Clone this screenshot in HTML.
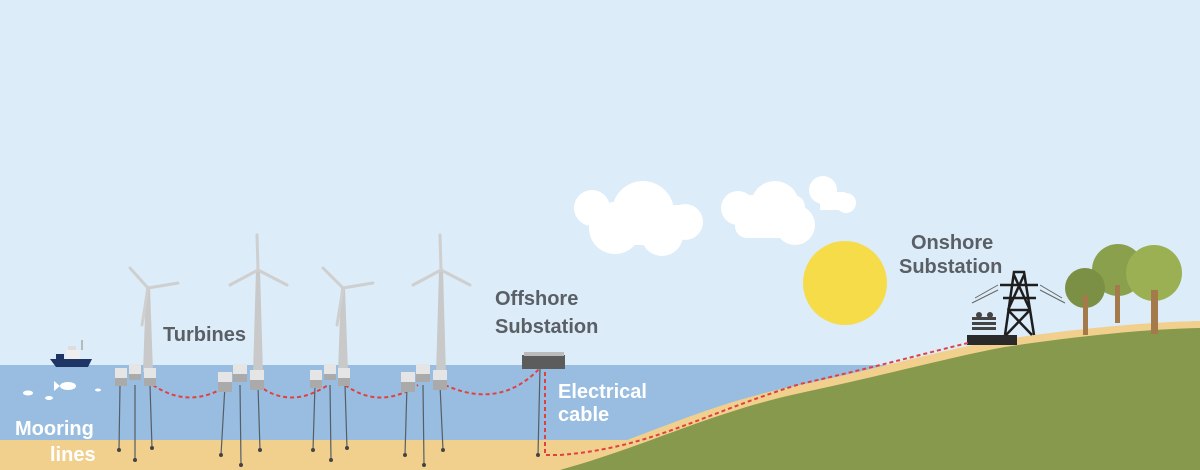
<!DOCTYPE html>
<html><head><meta charset="utf-8"><style>
html,body{margin:0;padding:0;background:#dcecf8}
svg{display:block}
text{font-family:"Liberation Sans",sans-serif;font-weight:bold}
</style></head><body>
<svg width="1200" height="470" viewBox="0 0 1200 470" xmlns="http://www.w3.org/2000/svg">
<rect width="1200" height="470" fill="#dcecf8"/>
<!-- clouds -->
<g fill="#ffffff">
<circle cx="592" cy="208" r="18"/><circle cx="643" cy="212" r="31"/><circle cx="615" cy="228" r="26"/>
<circle cx="662" cy="235" r="21"/><circle cx="685" cy="222" r="18"/><rect x="600" y="205" width="80" height="40"/>
<circle cx="738" cy="208" r="17"/><circle cx="775" cy="205" r="24"/><circle cx="795" cy="225" r="20"/>
<rect x="735" y="195" width="70" height="43" rx="12"/>
<circle cx="823" cy="190" r="14"/><circle cx="846" cy="203" r="10"/><rect x="820" y="192" width="25" height="18"/>
</g>
<!-- sun -->
<circle cx="845" cy="283" r="42" fill="#f7dc4a"/>
<!-- sea -->
<rect x="0" y="365" width="900" height="80" fill="#99bde0"/>
<!-- seabed sand -->
<rect x="0" y="440" width="700" height="30" fill="#f1d08e"/>
<!-- hill -->
<path d="M540,470 C640,440 700,405 800,385 C880,368 950,348 1000,340 C1080,328 1150,322 1200,321 L1200,470 Z" fill="#f1d08e"/>
<path d="M560,470 C650,445 710,412 805,392 C885,375 955,356 1005,347 C1085,335 1150,329 1200,328 L1200,470 Z" fill="#86994d"/>
<!-- trees -->
<g>
<circle cx="1118" cy="270" r="26" fill="#8aa04d"/>
<circle cx="1085" cy="288" r="20" fill="#7b8f45"/>
<circle cx="1154" cy="273" r="28" fill="#9bb052"/>
<rect x="1083" y="295" width="5" height="40" fill="#a57a4a"/>
<rect x="1115" y="285" width="5" height="38" fill="#a57a4a"/>
<rect x="1151" y="290" width="7" height="44" fill="#a57a4a"/>
</g>
<!-- onshore substation -->
<rect x="967" y="335" width="50" height="10" fill="#2a2a2a"/>
<g fill="#444"><rect x="972" y="322" width="24" height="3"/><rect x="972" y="327" width="24" height="3"/><rect x="972" y="317" width="24" height="3"/><circle cx="979" cy="315" r="3"/><circle cx="990" cy="315" r="3"/></g>
<g stroke="#1e1e1e" stroke-width="2.5" fill="none">
<path d="M1005,335 L1014,272 L1024,272 L1034,335"/>
<path d="M1000,285 L1038,285 M1003,298 L1036,298 M1008,310 L1030,310"/>
<path d="M1014,275 L1030,310 M1024,275 L1008,310 M1008,310 L1032,335 M1030,310 L1006,335"/>
</g>
<g stroke="#666" stroke-width="1"><path d="M998,285 L975,298 M998,290 L972,303 M1040,285 L1062,298 M1040,290 L1065,303"/></g>
<!-- cable -->
<path d="M545,372 L545,455 L560,455 C650,448 700,415 800,384 C880,366 930,352 968,343" stroke="#e04040" stroke-width="2" stroke-dasharray="4,3" fill="none"/>
<g stroke="#e04040" stroke-width="2" stroke-dasharray="4,3" fill="none">
<path d="M153,385 Q190,410 228,385"/>
<path d="M258,385 Q290,410 328,385"/>
<path d="M345,385 Q380,410 418,385"/>
<path d="M445,385 Q500,410 540,368"/>
</g>
<!-- substation offshore -->
<rect x="522" y="355" width="43" height="14" fill="#5c5c5c"/>
<rect x="524" y="352" width="40" height="4" fill="#bbb"/>
<g stroke="#555d66" stroke-width="1.2">
<path d="M120,385 L119,450 M135,385 L135,460 M150,385 L152,448"/>
<path d="M225,385 L221,455 M240,385 L241,465 M258,385 L260,450"/>
<path d="M315,385 L313,450 M330,385 L331,460 M345,385 L347,448"/>
<path d="M407,385 L405,455 M423,385 L424,465 M440,385 L443,450"/>
<path d="M540,368 L538,455"/>
</g>
<g fill="#444"><circle cx="119" cy="450" r="2"/><circle cx="135" cy="460" r="2"/><circle cx="152" cy="448" r="2"/>
<circle cx="221" cy="455" r="2"/><circle cx="241" cy="465" r="2"/><circle cx="260" cy="450" r="2"/>
<circle cx="313" cy="450" r="2"/><circle cx="331" cy="460" r="2"/><circle cx="347" cy="448" r="2"/>
<circle cx="405" cy="455" r="2"/><circle cx="424" cy="465" r="2"/><circle cx="443" cy="450" r="2"/><circle cx="538" cy="455" r="2"/></g>
<!-- towers & blades -->
<g fill="#c9c9c9">
<polygon points="146,288 150,288 153,372 143,372"/>
<polygon points="256,270 260,270 263,375 253,375"/>
<polygon points="341,288 345,288 348,372 338,372"/>
<polygon points="439,270 443,270 446,375 436,375"/>
</g>
<g stroke="#cfcfcf" stroke-width="3" stroke-linecap="round">
<path d="M148,288 L130,268 M148,288 L178,283 M148,288 L142,325"/>
<path d="M258,270 L257,235 M258,270 L230,285 M258,270 L287,285"/>
<path d="M343,288 L323,268 M343,288 L373,283 M343,288 L337,325"/>
<path d="M441,270 L440,235 M441,270 L413,285 M441,270 L470,285"/>
</g>
<!-- floats -->
<g>
<g fill="#e5e5e5"><rect x="115" y="368" width="12" height="10"/><rect x="129" y="364" width="12" height="10"/><rect x="144" y="368" width="12" height="10"/>
<rect x="218" y="372" width="14" height="10"/><rect x="233" y="364" width="14" height="10"/><rect x="250" y="370" width="14" height="10"/>
<rect x="310" y="370" width="12" height="10"/><rect x="324" y="364" width="12" height="10"/><rect x="338" y="368" width="12" height="10"/>
<rect x="401" y="372" width="14" height="10"/><rect x="416" y="364" width="14" height="10"/><rect x="433" y="370" width="14" height="10"/></g>
<g fill="#aaaaaa"><rect x="115" y="378" width="12" height="8"/><rect x="129" y="374" width="12" height="6"/><rect x="144" y="378" width="12" height="8"/>
<rect x="218" y="382" width="14" height="10"/><rect x="233" y="374" width="14" height="8"/><rect x="250" y="380" width="14" height="10"/>
<rect x="310" y="380" width="12" height="8"/><rect x="324" y="374" width="12" height="6"/><rect x="338" y="378" width="12" height="8"/>
<rect x="401" y="382" width="14" height="10"/><rect x="416" y="374" width="14" height="8"/><rect x="433" y="380" width="14" height="10"/></g>
</g>
<!-- boat -->
<path d="M50,359 L92,359 L88,367 L56,367 Z" fill="#1f3566"/>
<rect x="66" y="350" width="14" height="9" fill="#eee"/>
<rect x="68" y="346" width="8" height="4" fill="#ddd"/>
<rect x="56" y="354" width="8" height="5" fill="#1f3566"/>
<line x1="82" y1="340" x2="82" y2="350" stroke="#888"/>
<!-- fish -->
<g fill="#ffffff"><ellipse cx="68" cy="386" rx="8" ry="4"/><polygon points="54,381 60,386 54,391"/>
<ellipse cx="28" cy="393" rx="5" ry="2.5"/><ellipse cx="49" cy="398" rx="4" ry="2"/><ellipse cx="98" cy="390" rx="3" ry="1.5"/></g>
<!-- labels -->
<g fill="#5a5f66" font-size="20">
<text x="163" y="341">Turbines</text>
<text x="495" y="305">Offshore</text>
<text x="495" y="333">Substation</text>
<text x="911" y="249">Onshore</text>
<text x="899" y="273">Substation</text>
</g>
<g fill="#ffffff" font-size="20">
<text x="558" y="398">Electrical</text>
<text x="558" y="421">cable</text>
<text x="15" y="435">Mooring</text>
<text x="50" y="461">lines</text>
</g>
</svg>
</body></html>
